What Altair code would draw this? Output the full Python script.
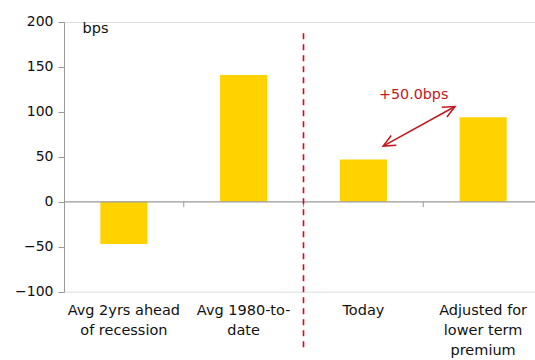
import altair as alt
import pandas as pd

categories = ["Avg 2yrs ahead|of recession", "Avg 1980-to-|date", "Today", "Adjusted for|lower term|premium"]
values = [-47, 141, 47, 94]

# overlay helpers (quantitative x on 0..4 category units)
boundary_x = [1, 2, 3]
divider_x = [2]
divider_y = [187.5]
divider_y2 = [-163]
arrow_x = [2.665, 3.265]
arrow_y = [62, 106]
arrow_angle = [242, 62]
label_text = ["+50.0bps"]
label_x = [2.92]
label_y = [119]

FONT = "DejaVu Sans"
ARROW_RED = "#C4161C"
DIV_RED = "#E2001A"
GOLD = "#FFD200"
W = 471
RANGE = [0, 479]

bars_df = pd.DataFrame({"cat": categories, "value": values})
ydom = alt.Scale(domain=[-100, 200], nice=False, zero=False)

bars = alt.Chart(bars_df).mark_bar(color=GOLD).encode(
    x=alt.X("cat:N", sort=categories,
            scale=alt.Scale(range=RANGE, paddingInner=0.607, paddingOuter=0.3035),
            axis=alt.Axis(title=None, domain=False, ticks=False, labelAngle=0,
                          labelExpr="split(datum.label, '|')", labelFont=FONT,
                          labelFontSize=14.5, labelColor="#111", labelLineHeight=20,
                          labelPadding=12, labelBaseline="top")),
    y=alt.Y("value:Q", scale=ydom,
            axis=alt.Axis(title="bps", titleAngle=0, titleX=18, titleY=7, titleAlign="left",
                          titleBaseline="middle", titleFont=FONT, titleFontSize=14.5,
                          titleFontWeight="normal", titleColor="#111",
                          values=[-100, -50, 0, 50, 100, 150, 200], grid=False,
                          labelFont=FONT, labelFontSize=14, labelColor="#111",
                          domainColor="#999", tickColor="#999", tickSize=6, labelPadding=5)),
)

xq = alt.Scale(domain=[0, 4], range=RANGE)

zero = alt.Chart(pd.DataFrame({"y": [0]})).mark_rule(color="#999", strokeWidth=1.2).encode(
    y=alt.Y("y:Q", scale=ydom)
)

ticks = alt.Chart(pd.DataFrame({"x": boundary_x})).mark_rule(color="#999", strokeWidth=1).encode(
    x=alt.X("x:Q", scale=xq, axis=None),
    y=alt.Y("y0:Q", scale=ydom),
    y2="y1:Q",
).transform_calculate(y0="0", y1="-6")

divider = alt.Chart(pd.DataFrame({"x": divider_x, "y": divider_y, "y2": divider_y2})).mark_rule(
    color=DIV_RED, strokeWidth=1.6, strokeDash=[6, 5]
).encode(
    x=alt.X("x:Q", scale=xq, axis=None),
    y=alt.Y("y:Q", scale=ydom),
    y2="y2:Q",
)

arrow_df = pd.DataFrame({"x": arrow_x, "y": arrow_y, "angle": arrow_angle})
arrow_line = alt.Chart(arrow_df).mark_line(color=ARROW_RED, strokeWidth=1.5).encode(
    x=alt.X("x:Q", scale=xq, axis=None),
    y=alt.Y("y:Q", scale=ydom),
)
arrow_heads = alt.Chart(arrow_df).mark_point(
    shape="M-0.5,1.1L0,0L0.5,1.1", filled=False, color=ARROW_RED, strokeWidth=1.5, size=480, opacity=1
).encode(
    x=alt.X("x:Q", scale=xq, axis=None),
    y=alt.Y("y:Q", scale=ydom),
    angle=alt.Angle("angle:Q", scale=None),
)

label = alt.Chart(pd.DataFrame({"t": label_text, "x": label_x, "y": label_y})).mark_text(
    color=ARROW_RED, font=FONT, fontSize=14.3, align="center", baseline="middle"
).encode(
    x=alt.X("x:Q", scale=xq, axis=None),
    y=alt.Y("y:Q", scale=ydom),
    text="t:N",
)

chart = alt.layer(bars, zero, ticks, divider, arrow_line, arrow_heads, label).resolve_scale(
    x="independent"
).properties(
    width=W, height=269.7,
    autosize=alt.AutoSizeParams(type="none"),
    padding={"left": 64, "top": 22, "right": 0, "bottom": 68},
).configure_view(stroke=None).configure(background="white")

chart.save("out.html", embed_options={"renderer": "svg", "actions": False})
